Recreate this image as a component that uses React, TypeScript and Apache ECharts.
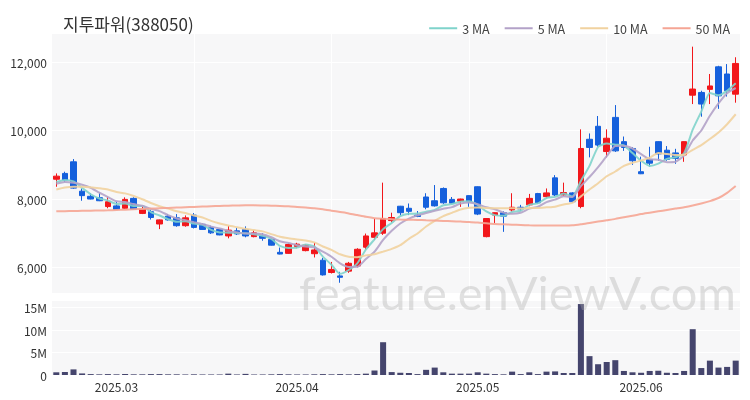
import React, { useEffect, useRef } from 'react';
import * as echarts from 'echarts';

const FONT = '"Noto Sans CJK KR", "Noto Sans", sans-serif';

const dates = [
  '2025-02-20','2025-02-21','2025-02-24','2025-02-25','2025-02-26','2025-02-27','2025-02-28',
  '2025-03-03','2025-03-04','2025-03-05','2025-03-06','2025-03-07','2025-03-10','2025-03-11','2025-03-12','2025-03-13','2025-03-14',
  '2025-03-17','2025-03-18','2025-03-19','2025-03-20','2025-03-21','2025-03-24','2025-03-25','2025-03-26','2025-03-27','2025-03-28','2025-03-31',
  '2025-04-01','2025-04-02','2025-04-03','2025-04-04','2025-04-07','2025-04-08','2025-04-09','2025-04-10','2025-04-11',
  '2025-04-14','2025-04-15','2025-04-16','2025-04-17','2025-04-18','2025-04-21','2025-04-22','2025-04-23','2025-04-24','2025-04-25',
  '2025-04-28','2025-04-29',
  '2025-05-02','2025-05-07','2025-05-08','2025-05-09','2025-05-12','2025-05-13','2025-05-14','2025-05-15','2025-05-16',
  '2025-05-19','2025-05-20','2025-05-21','2025-05-22','2025-05-23','2025-05-26','2025-05-27','2025-05-28','2025-05-29','2025-05-30',
  '2025-06-02','2025-06-04','2025-06-05','2025-06-09','2025-06-10','2025-06-11','2025-06-12','2025-06-13',
  '2025-06-16','2025-06-17','2025-06-18','2025-06-19'
];

const opens = [
  8580, 8750, 9090, 8230, 8080, 8040, 7780, 7800, 7730, 8020,
  7580, 7630, 7270, 7500, 7450, 7220, 7530, 7260, 7160, 7110,
  6920, 7070, 7110, 6900, 6920, 6820, 6440, 6410, 6610, 6490,
  6400, 6210, 5850, 5750, 5890, 6040, 6590, 6880, 7000, 7370,
  7790, 7730, 7530, 8060, 7950, 8310, 7990, 7940, 8100, 8360,
  6900, 7530, 7600, 7680, 7760, 7830, 8160, 8070, 8620, 8120,
  8180, 7780, 9750, 10130, 9390, 10390, 9680, 9480, 8800, 9160,
  9680, 9430, 9350, 9290, 11040, 11120, 11210, 11870, 11660, 11070
];
const closes = [
  8670, 8560, 8320, 8100, 8000, 7950, 7920, 7700, 7990, 7700,
  7700, 7460, 7390, 7390, 7220, 7450, 7170, 7110, 7010, 6950,
  7090, 6980, 6920, 7010, 6850, 6650, 6390, 6670, 6680, 6650,
  6510, 5780, 5940, 5710, 6120, 6530, 6920, 7010, 7430, 7460,
  7600, 7640, 7490, 7760, 7800, 7890, 7880, 8000, 7920, 7560,
  7430, 7600, 7500, 7760, 7710, 8020, 7890, 8180, 8120, 8190,
  7920, 9480, 9510, 9580, 9780, 9410, 9510, 9120, 8740, 9050,
  9320, 9160, 9190, 9680, 11220, 10780, 11310, 11020, 11170, 11970
];
const lows = [
  8360, 8500, 8300, 7950, 7990, 7940, 7730, 7690, 7710, 7690,
  7560, 7400, 7120, 7370, 7190, 7190, 7140, 7100, 6980, 6940,
  6850, 6950, 6880, 6880, 6780, 6640, 6380, 6400, 6560, 6470,
  6290, 5760, 5820, 5550, 5840, 6000, 6520, 6800, 6950, 7320,
  7520, 7530, 7470, 7700, 7780, 7860, 7850, 7770, 7770, 7530,
  6880, 7300, 7040, 7630, 7650, 7790, 7860, 8020, 8090, 8090,
  7890, 7730, 9220, 9530, 9220, 9380, 9410, 9000, 8730, 8950,
  9120, 9120, 9030, 9090, 10780, 10410, 10780, 10640, 11000, 10820
];
const highs = [
  8750, 8800, 9170, 8310, 8170, 8180, 8070, 7920, 8050, 8050,
  7780, 7680, 7400, 7560, 7560, 7520, 7590, 7290, 7220, 7130,
  7210, 7160, 7200, 7090, 7000, 6850, 6580, 6700, 6720, 6680,
  6720, 6280, 6160, 5870, 6160, 6560, 6990, 7430, 8480, 7600,
  7800, 7870, 7650, 8170, 8410, 8340, 8060, 8010, 8110, 8370,
  7440, 7610, 7640, 8170, 7830, 8150, 8180, 8310, 8700, 8480,
  8200, 10040, 9920, 10430, 10040, 10750, 9830, 9520, 9240, 9530,
  9690, 9550, 9470, 9690, 12460, 11170, 11660, 11900, 11950, 12150
];
const volumes = [
  600000, 650000, 1250000, 350000, 200000, 150000, 200000, 150000, 200000, 150000,
  150000, 200000, 200000, 150000, 150000, 120000, 150000, 120000, 120000, 120000,
  300000, 120000, 250000, 120000, 120000, 150000, 200000, 150000, 120000, 120000,
  150000, 200000, 150000, 200000, 150000, 200000, 300000, 1000000, 7300000, 650000,
  500000, 450000, 200000, 1150000, 1650000, 600000, 300000, 300000, 300000, 600000,
  300000, 200000, 150000, 750000, 200000, 600000, 200000, 750000, 800000, 450000,
  450000, 15800000, 4200000, 2400000, 2900000, 3300000, 900000, 600000, 500000, 900000,
  950000, 500000, 450000, 900000, 10200000, 1550000, 3200000, 1650000, 1800000, 3200000
];
// closes of the nine sessions before the first visible one (for the moving averages)
const priorCloses = [8000, 8050, 8100, 8150, 8250, 8300, 8450, 8380, 8450];
const ma50 = [
  7640, 7645, 7650, 7655, 7660, 7665, 7670, 7680, 7690, 7700,
  7710, 7720, 7730, 7740, 7750, 7760, 7770, 7780, 7790, 7800,
  7805, 7810, 7815, 7815, 7810, 7805, 7800, 7790, 7770, 7750,
  7730, 7700, 7660, 7620, 7580, 7530, 7480, 7440, 7420, 7410,
  7400, 7395, 7390, 7380, 7370, 7360, 7350, 7340, 7330, 7310,
  7290, 7270, 7260, 7250, 7240, 7230, 7225, 7225, 7225, 7225,
  7230, 7260, 7300, 7340, 7380, 7420, 7470, 7510, 7560, 7600,
  7640, 7680, 7720, 7760, 7810, 7870, 7940, 8030, 8180, 8380
];
const legendNames = ['3 MA', '5 MA', '10 MA', '50 MA'];
const maColors = ['#7fd3cb', '#b3a2c8', '#f1d29f', '#f5a594'];

function movingAverage(values: number[], prior: number[], n: number): number[] {
  const all = prior.concat(values);
  return values.map((_, i) => {
    const end = prior.length + i;
    let s = 0;
    for (let k = end - n + 1; k <= end; k++) s += all[k];
    return Math.round(s / n);
  });
}

const BG = '#f7f7f8';

export default function App() {
  const ref = useRef<HTMLDivElement>(null);
  useEffect(() => {
    if (!ref.current) return;
    const chart = echarts.init(ref.current, null, { renderer: 'svg' });
    const ma3 = movingAverage(closes, priorCloses, 3);
    const ma5 = movingAverage(closes, priorCloses, 5);
    const ma10 = movingAverage(closes, priorCloses, 10);
    const maData = [ma3, ma5, ma10, ma50];
    const isMonthStart = (i: number) => i > 0 && dates[i].slice(0, 7) !== dates[i - 1].slice(0, 7);
    const option: any = {
      animation: false,
      textStyle: { fontFamily: FONT },
      title: {
        text: '지투파워(388050)',
        left: 58,
        top: 10,
        textStyle: { fontSize: 17, fontWeight: 'normal', color: '#333', fontFamily: FONT },
      },
      legend: {
        data: legendNames,
        top: 17,
        right: 15,
        icon: 'rect',
        itemWidth: 28,
        itemHeight: 2,
        itemGap: 15,
        textStyle: { fontSize: 12.5, color: '#444', fontFamily: FONT },
      },
      grid: [
        { left: 52, right: 10, top: 33, height: 260, show: true, backgroundColor: BG, borderWidth: 0 },
        { left: 52, right: 10, top: 300, height: 75, show: true, backgroundColor: BG, borderWidth: 0 },
      ],
      xAxis: [
        {
          type: 'category',
          gridIndex: 0,
          data: dates,
          boundaryGap: true,
          axisLine: { show: false },
          axisTick: { show: false },
          axisLabel: { show: false },
          splitLine: {
            show: true,
            alignWithLabel: true,
            interval: (i: number) => i > 0 && i % 16 === 0,
            lineStyle: { color: '#ffffff', width: 1 },
          },
        },
        {
          type: 'category',
          gridIndex: 1,
          data: dates,
          boundaryGap: true,
          axisLine: { show: false },
          axisTick: { show: false },
          splitLine: { show: false },
          axisLabel: {
            interval: (i: number) => isMonthStart(i),
            formatter: (v: string) => v.slice(0, 7).replace('-', '.'),
            color: '#333',
            fontSize: 12,
            margin: 5,
            fontFamily: FONT,
          },
        },
      ],
      yAxis: [
        {
          type: 'value',
          gridIndex: 0,
          min: 5250,
          max: 12860,
          axisLine: { show: false },
          axisTick: { show: false },
          splitLine: { show: true, lineStyle: { color: '#ffffff', width: 1 } },
          axisLabel: {
            showMinLabel: false,
            showMaxLabel: false,
            color: '#333',
            fontSize: 12,
            margin: 5,
            fontFamily: FONT,
            formatter: (v: number) => v.toLocaleString('en-US'),
          },
        },
        {
          type: 'value',
          gridIndex: 1,
          min: 0,
          max: 16700000,
          interval: 5000000,
          axisLine: { show: false },
          axisTick: { show: false },
          splitLine: { show: true, lineStyle: { color: '#ffffff', width: 1 } },
          axisLabel: {
            showMaxLabel: false,
            color: '#333',
            fontSize: 12,
            margin: 5,
            fontFamily: FONT,
            formatter: (v: number) => (v === 0 ? '0' : v / 1000000 + 'M'),
          },
        },
      ],
      series: [
        {
          type: 'candlestick',
          xAxisIndex: 0,
          yAxisIndex: 0,
          barWidth: '70%',
          data: opens.map((o, i) => [o, closes[i], lows[i], highs[i]]),
          itemStyle: {
            color: '#f2171b',
            color0: '#1560dc',
            borderColor: '#f2171b',
            borderColor0: '#1560dc',
            borderWidth: 1,
          },
        },
        ...legendNames.map((name, k) => ({
          name,
          type: 'line',
          xAxisIndex: 0,
          yAxisIndex: 0,
          data: maData[k],
          symbol: 'none',
          smooth: 0.2,
          lineStyle: { color: maColors[k], width: 2, opacity: 0.9 },
          itemStyle: { color: maColors[k] },
        })),
        {
          type: 'bar',
          xAxisIndex: 1,
          yAxisIndex: 1,
          barWidth: '70%',
          data: volumes,
          itemStyle: { color: '#45456d' },
        },
      ],
      graphic: [
        {
          type: 'text',
          right: 14,
          top: 268,
          z: 100,
          style: {
            text: 'feature.enViewV.com',
            fontSize: 47,
            fontFamily: 'Lato, "Noto Sans", sans-serif',
            fill: 'rgba(170,170,170,0.35)',
          },
        },
      ],
    };
    chart.setOption(option);
    return () => chart.dispose();
  }, []);
  return <div ref={ref} style={{ position: 'fixed', left: 0, top: 0, width: 750, height: 400 }} />;
}
